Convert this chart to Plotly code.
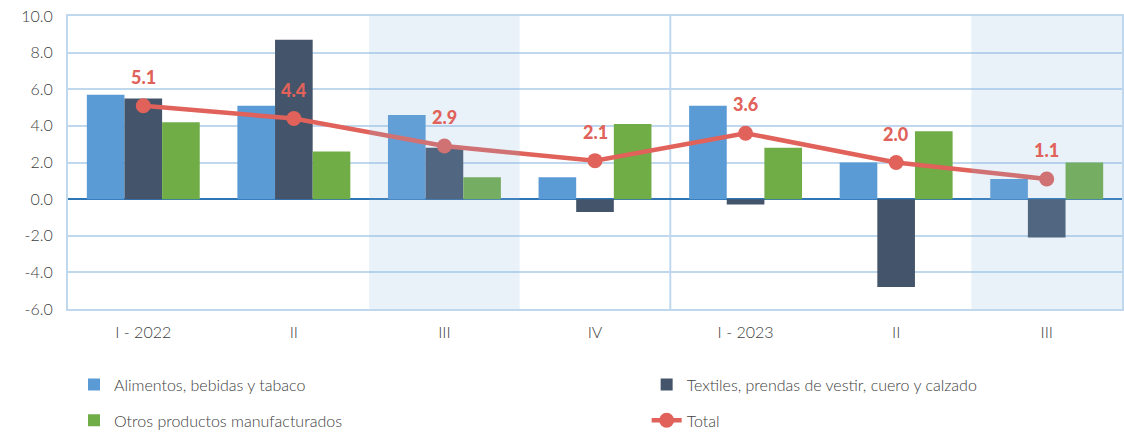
import plotly.graph_objects as go

periods = ["I - 2022", "II", "III", "IV", "I - 2023", "II", "III"]
alimentos = [5.7, 5.1, 4.6, 1.2, 5.1, 2.0, 1.1]
textiles = [5.5, 8.7, 2.8, -0.7, -0.3, -4.8, -2.1]
otros = [4.2, 2.6, 1.2, 4.1, 2.8, 3.7, 2.0]
total = [5.1, 4.4, 2.9, 2.1, 3.6, 2.0, 1.1]
y_ticks = [-6, -4, -2, 0, 2, 4, 6, 8, 10]
y_tick_labels = ["-6.0", "-4.0", "-2.0", "0.0", "2.0", "4.0", "6.0", "8.0", "10.0"]
shaded_idx = [2, 6]
year_split = 3.5

x = list(range(len(periods)))
FONT = "Lato"
RED = "#e0625a"
TXT = dict(family=FONT, size=16, color="#404040", weight=300)

fig = go.Figure()
fig.add_trace(go.Bar(x=x, y=alimentos, name="Alimentos, bebidas y tabaco",
                     marker=dict(color="#5b9bd5", line=dict(width=0)),
                     legend="legend", legendgroup="a"))
fig.add_trace(go.Bar(x=x, y=textiles, name="Textiles, prendas de vestir, cuero y calzado",
                     marker=dict(color="#44546a", line=dict(width=0)),
                     legend="legend2", legendgroup="b"))
fig.add_trace(go.Bar(x=x, y=otros, name="Otros productos manufacturados",
                     marker=dict(color="#70ad47", line=dict(width=0)),
                     legend="legend", legendgroup="c"))
fig.add_trace(go.Scatter(x=x, y=total, name="Total", mode="lines+markers",
                         line=dict(color=RED, width=4.5),
                         marker=dict(color=RED, size=15),
                         legend="legend2", legendgroup="d"))

annotations = [dict(x=xi, y=v, xref="x", yref="y", text=f"{v:.1f}", showarrow=False,
                    yshift=29, yanchor="middle",
                    font=dict(family=FONT, size=18, color=RED, weight=900))
               for xi, v in zip(x, total)]

shapes = []
for i in shaded_idx:
    shapes.append(dict(type="rect", xref="x", yref="paper", x0=i - 0.5, x1=i + 0.5,
                       y0=0, y1=1, fillcolor="rgba(139,181,223,0.19)",
                       line=dict(width=0), layer="above"))
shapes.append(dict(type="line", xref="x", yref="paper", x0=year_split, x1=year_split,
                   y0=0, y1=1, line=dict(color="#c0d8ee", width=2), layer="below"))

fig.update_layout(
    width=1124, height=435,
    margin=dict(l=68, r=2, t=16, b=126, autoexpand=False),
    paper_bgcolor="white", plot_bgcolor="white",
    barmode="group", bargap=0.25, bargroupgap=0,
    font=TXT,
    shapes=shapes, annotations=annotations,
    legend=dict(x=0.0057, y=-0.2, xanchor="left", yanchor="top", orientation="v",
                tracegroupgap=12, font=TXT, bgcolor="rgba(0,0,0,0)"),
    legend2=dict(x=0.549, y=-0.2, xanchor="left", yanchor="top", orientation="v",
                 tracegroupgap=12, font=TXT, bgcolor="rgba(0,0,0,0)"),
)
fig.update_xaxes(tickvals=x, ticktext=periods, range=[-0.5, len(periods) - 0.5],
                 showgrid=False, showline=True, linecolor="#c0d8ee", linewidth=2,
                 mirror=True, ticks="", ticklabelstandoff=8, automargin=False,
                 tickfont=TXT)
fig.update_yaxes(range=[-6, 10], tickvals=y_ticks, ticktext=y_tick_labels,
                 showgrid=True, gridcolor="#c0d8ee", gridwidth=2,
                 zeroline=True, zerolinecolor="#2e75b6", zerolinewidth=2,
                 showline=True, linecolor="#c0d8ee", linewidth=2, mirror=True,
                 ticks="", ticklabelstandoff=10, automargin=False,
                 tickfont=TXT)

fig.write_html("out.html", config={"displayModeBar": False},
               post_script="document.body.style.margin='0px';document.body.style.overflow='hidden';")
